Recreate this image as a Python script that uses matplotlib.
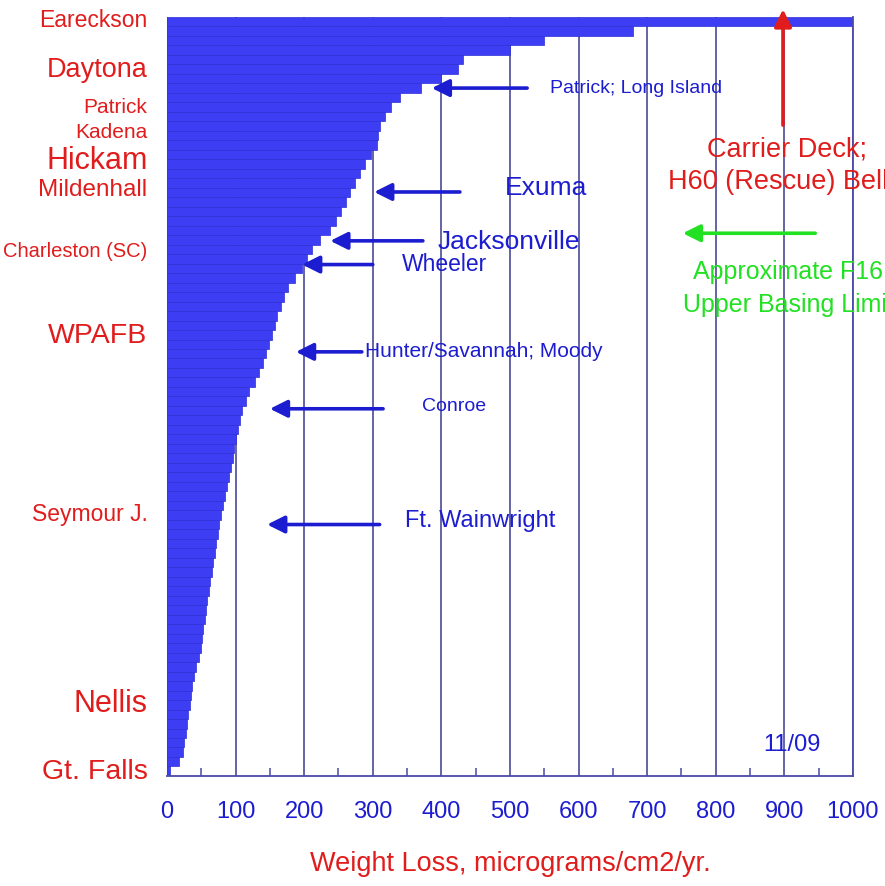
import numpy as np
import matplotlib.pyplot as plt

# weight loss per site, sorted, top bar first
weight_loss = [1000, 680, 550, 500, 432, 424, 400, 370, 340, 326,
               318, 311, 308, 306, 298, 289, 281, 274, 267, 261,
               253, 246, 238, 223, 212, 204, 197, 186, 177, 170,
               166, 161, 157, 153, 149, 144, 140, 134, 128, 119,
               115, 110, 106, 104, 101, 98, 96, 94, 91, 88,
               85, 82, 79, 76, 74, 72, 70, 67, 65, 63,
               61, 59, 57, 55, 53, 51, 49, 46, 43, 40,
               37, 35, 33, 31, 29, 27, 25, 23, 18, 5]

# named sites and the bar row they sit at
site_names = ["Eareckson", "Daytona", "Patrick", "Kadena", "Hickam", "Mildenhall",
              "Charleston (SC)", "WPAFB", "Seymour J.", "Nellis", "Gt. Falls"]
site_rows = [-0.4, 4.8, 8.8, 11.5, 14.3, 17.5, 24.0, 32.8, 51.7, 71.5, 78.8]
site_sizes = [16.5, 19.5, 15, 15, 22, 17.5, 14.5, 20.5, 16.5, 22, 20.5]

x_ticks = list(range(0, 1001, 100))

plt.rcParams["font.family"] = ["Liberation Sans", "DejaVu Sans"]

RED = "#e01c1c"
BLUE = "#1c1cd0"
GREEN = "#22e022"

fig = plt.figure(figsize=(8.85, 8.86), dpi=100)
ax = fig.add_axes([0.1887, 0.1242, 0.7751, 0.8567])

rows = np.arange(len(weight_loss))
ax.barh(rows, weight_loss, height=1.0, color="#3d3df3", edgecolor="#2e2ed6",
        linewidth=0.5, zorder=2)

ax.set_xlim(0, 1000)
ax.set_ylim(len(weight_loss) - 0.5, -0.5)

ax.set_xticks(x_ticks)
ax.set_xticklabels([str(t) for t in x_ticks], fontsize=17, color=BLUE)
ax.set_xticks(np.arange(50, 1000, 100), minor=True)
ax.tick_params(axis="x", which="major", length=0, pad=18)
ax.tick_params(axis="x", which="minor", direction="in", length=6, width=1.1,
               color="#4a4aa8")
ax.grid(axis="x", color="#5858a0", linewidth=1.3, zorder=1)
ax.set_axisbelow(True)

ax.set_yticks(site_rows)
ax.set_yticklabels(site_names, color=RED)
for lab, fs in zip(ax.get_yticklabels(), site_sizes):
    lab.set_fontsize(fs)
ax.tick_params(axis="y", length=0, pad=14)

for s in ["top", "left"]:
    ax.spines[s].set_visible(False)
for s in ["bottom", "right"]:
    ax.spines[s].set_color("#4a4aa8")
    ax.spines[s].set_linewidth(1.3)

ax.set_xlabel("Weight Loss, micrograms/cm2/yr.", fontsize=19.5, color=RED, labelpad=20)


def arrow(x0, x1, y, color, lw=2.6):
    ax.annotate("", xy=(x1, y), xytext=(x0, y),
                arrowprops=dict(arrowstyle="-|>", color=color, lw=lw,
                                mutation_scale=26, shrinkA=0, shrinkB=0),
                zorder=5, annotation_clip=False)


arrow(525, 386, 7.0, BLUE)
arrow(427, 302, 17.95, BLUE)
arrow(373, 238, 23.1, BLUE)
arrow(300, 197, 25.6, BLUE)
arrow(284, 188, 34.8, BLUE)
arrow(315, 150, 40.8, BLUE)
arrow(310, 146, 53.0, BLUE)
arrow(945, 752, 22.3, GREEN)

ax.annotate("", xy=(898, -1.3), xytext=(898, 10.9),
            arrowprops=dict(arrowstyle="-|>", color=RED, lw=2.6,
                            mutation_scale=26, shrinkA=0, shrinkB=0),
            zorder=5, annotation_clip=False)

ax.text(558, 7.0, "Patrick; Long Island", fontsize=14, color=BLUE, va="center",
        zorder=6)
ax.text(493, 17.5, "Exuma", fontsize=19, color=BLUE, va="center", zorder=6)
ax.text(395, 23.2, "Jacksonville", fontsize=19, color=BLUE, va="center", zorder=6)
ax.text(343, 25.6, "Wheeler", fontsize=16.5, color=BLUE, va="center", zorder=6)
ax.text(289, 34.8, "Hunter/Savannah; Moody", fontsize=15, color=BLUE, va="center",
        zorder=6)
ax.text(372, 40.6, "Conroe", fontsize=14, color=BLUE, va="center", zorder=6)
ax.text(347, 52.6, "Ft. Wainwright", fontsize=17, color=BLUE, va="center", zorder=6)
ax.text(904, 13.5, "Carrier Deck;", fontsize=19.5, color=RED, va="center",
        ha="center", zorder=6, clip_on=False)
ax.text(730, 16.9, "H60 (Rescue) Bell", fontsize=19.5, color=RED, va="center",
        zorder=6, clip_on=False)
ax.text(767, 26.4, "Approximate F16", fontsize=18, color=GREEN, va="center",
        zorder=6, clip_on=False)
ax.text(752, 29.9, "Upper Basing Limit", fontsize=18, color=GREEN, va="center",
        zorder=6, clip_on=False)
ax.text(869, 76.2, "11/09", fontsize=17, color=BLUE, va="center", zorder=6)

fig.savefig("out.png", dpi=100, facecolor="white")
